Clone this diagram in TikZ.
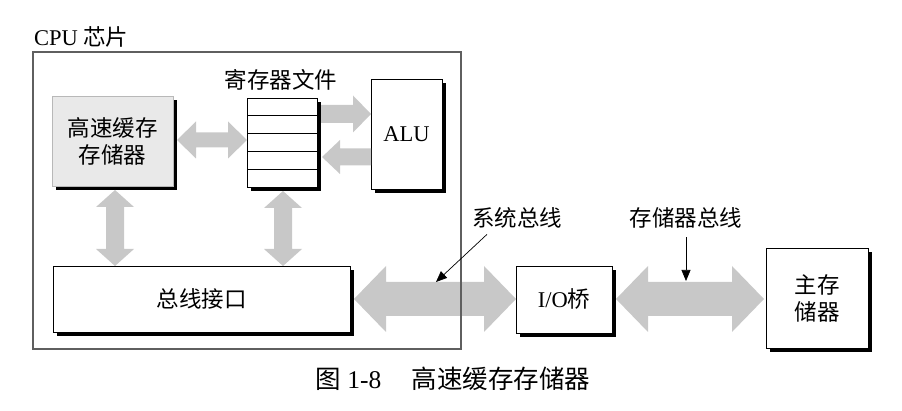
\documentclass[tikz,border=0pt]{standalone}
\usepackage{fontspec}
\setmainfont{Liberation Serif}
\newfontfamily\cjk{Noto Sans CJK SC}
\usetikzlibrary{calc,shadows,arrows.meta}
\definecolor{arrowgray}{HTML}{C8C8C8}
\definecolor{chipgray}{HTML}{5F5F5F}
\definecolor{cachefill}{HTML}{E9E9E9}
\definecolor{cacheedge}{HTML}{B8B8B8}
\newcommand\mainfs{\fontsize{22.5pt}{27pt}\selectfont}
\newcommand\capfs{\fontsize{25.5pt}{30pt}\selectfont}
% double arrow, horizontal: #1 left tip, #2 right tip, #3 body half, #4 head half, #5 head length
\newcommand\hdouble[5]{\fill[arrowgray] let \p1=#1, \p2=#2 in
  (\x1,\y1) -- (\x1+#5pt,\y1+#4pt) -- (\x1+#5pt,\y1+#3pt) -- (\x2-#5pt,\y1+#3pt) -- (\x2-#5pt,\y1+#4pt)
  -- (\x2,\y1) -- (\x2-#5pt,\y1-#4pt) -- (\x2-#5pt,\y1-#3pt) -- (\x1+#5pt,\y1-#3pt) -- (\x1+#5pt,\y1-#4pt) -- cycle;}
% double arrow, vertical: #1 top tip, #2 bottom tip
\newcommand\vdouble[5]{\fill[arrowgray] let \p1=#1, \p2=#2 in
  (\x1,\y1) -- (\x1+#4pt,\y1-#5pt) -- (\x1+#3pt,\y1-#5pt) -- (\x1+#3pt,\y2+#5pt) -- (\x1+#4pt,\y2+#5pt)
  -- (\x1,\y2) -- (\x1-#4pt,\y2+#5pt) -- (\x1-#3pt,\y2+#5pt) -- (\x1-#3pt,\y1-#5pt) -- (\x1-#4pt,\y1-#5pt) -- cycle;}
% single arrow pointing right: #1 tail, #2 tip
\newcommand\rarrow[5]{\fill[arrowgray] let \p1=#1, \p2=#2 in
  (\x1,\y1+#3pt) -- (\x2-#5pt,\y1+#3pt) -- (\x2-#5pt,\y1+#4pt) -- (\x2,\y1) -- (\x2-#5pt,\y1-#4pt)
  -- (\x2-#5pt,\y1-#3pt) -- (\x1,\y1-#3pt) -- cycle;}
% single arrow pointing left: #1 tail (right), #2 tip (left)
\newcommand\larrow[5]{\fill[arrowgray] let \p1=#1, \p2=#2 in
  (\x1,\y1+#3pt) -- (\x2+#5pt,\y1+#3pt) -- (\x2+#5pt,\y1+#4pt) -- (\x2,\y1) -- (\x2+#5pt,\y1-#4pt)
  -- (\x2+#5pt,\y1-#3pt) -- (\x1,\y1-#3pt) -- cycle;}
\tikzset{
  box/.style={draw=black, line width=0.8pt, fill=white, inner sep=0pt, outer sep=0pt,
    font=\mainfs, align=center,
    drop shadow={shadow xshift=4pt, shadow yshift=-4pt, fill=black, opacity=1}},
  cachebox/.style={box, draw=cacheedge, fill=cachefill},
  label/.style={inner sep=0pt, outer sep=0pt, font=\mainfs},
  pointer/.style={draw=black, line width=0.7pt, -{Triangle[length=11pt,width=9pt]}}
}
\begin{document}
\begin{tikzpicture}[x=1pt,y=-1pt]
\useasboundingbox (0,0) rectangle (902,411);
% boxes
\node[cachebox, minimum width=121pt, minimum height=90pt] (cache) at (112.5,141) {{\cjk 高速缓存}\\{\cjk 存储器}};
\node[box, minimum width=70pt, minimum height=89pt] (reg) at (282,142.5) {};
\foreach \i in {1,...,4}
  \draw[line width=0.8pt] ($(reg.north west)!\i/5!(reg.south west)$) -- ($(reg.north east)!\i/5!(reg.south east)$);
\node[box, minimum width=71pt, minimum height=110pt] (alu) at (406.5,134) {ALU};
\node[box, minimum width=297pt, minimum height=66pt] (bus) at (201.5,299) {{\cjk 总线接口}};
\node[box, minimum width=96pt, minimum height=67pt] (iob) at (564,299.5) {I/O{\cjk 桥}};
\node[box, minimum width=102pt, minimum height=100pt] (mem) at (817,298) {{\cjk 主存}\\{\cjk 储器}};
% labels
\node[label, anchor=west] (cpul) at (34,37) {CPU {\cjk 芯片}};
\node[label] (regl) at (281,80) {{\cjk 寄存器文件}};
\node[label] (sysl) at (517,218) {{\cjk 系统总线}};
\node[label] (meml) at (686,218) {{\cjk 存储器总线}};
\node[inner sep=0pt, font=\capfs] (cap) at (453,379) {{\cjk 图} 1-8\hspace{1.2em}{\cjk 高速缓存存储器}};
% coordinates
\coordinate (ra1) at ($(reg.east)+(4,-28.5)$);
\coordinate (ra2) at ($(reg.east)+(5,14.5)$);
\coordinate (cv) at ($(cache.south)+(2.5,4)$);
\coordinate (rv) at ($(reg.south)+(1,4)$);
\coordinate (cr) at ($(cache.east)+(4,-1)$);
% gray arrows
\hdouble{(cr)}{(reg.west |- cr)}{7.5}{18.5}{19}
\rarrow{(ra1)}{(alu.west |- ra1)}{9}{18.5}{18}
\larrow{(alu.west |- ra2)}{(ra2)}{8.5}{17}{18}
\vdouble{(cv)}{(bus.north -| cv)}{9}{19}{17}
\vdouble{(rv)}{(bus.north -| rv)}{9}{19}{17}
\hdouble{($(bus.east)+(4,0)$)}{(iob.west |- bus.east)}{17}{33}{32}
\hdouble{($(iob.east)+(4,-0.5)$)}{($(mem.west)+(-2,0.5)$)}{17}{33}{32}
% CPU chip outline
\draw[chipgray, line width=2.5pt] (33,52) rectangle (461,349);
% pointers
\coordinate (sysp) at (436,282);
\coordinate (memp) at (686,281);
\draw[pointer] ($(sysl.south)+(-30,6)$) -- (sysp);
\draw[pointer] ($(meml.south)+(0,9)$) -- (memp);
\end{tikzpicture}
\end{document}
